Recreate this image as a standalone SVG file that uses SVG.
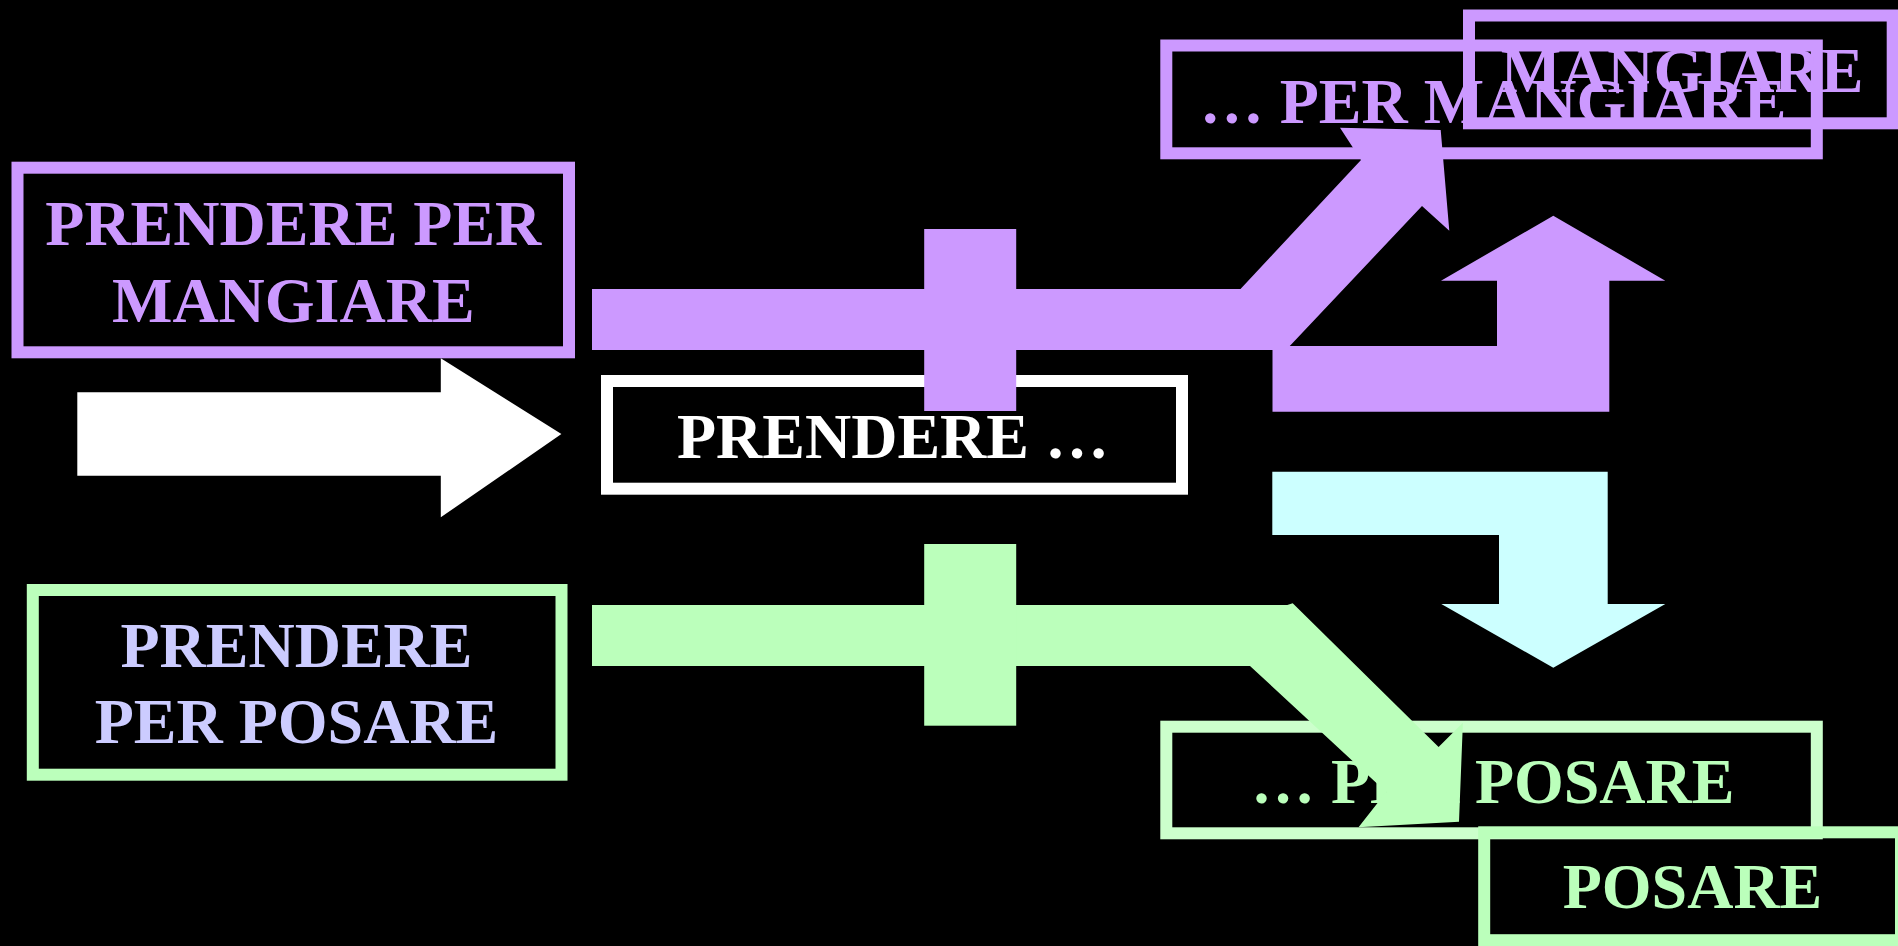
<svg xmlns="http://www.w3.org/2000/svg" width="1898" height="946" viewBox="0 0 1898 946">
  <style>
    .box { fill: none; stroke-width: 12; }
    .lbl { font-family: "Liberation Serif", "Times New Roman", serif; font-weight: bold; font-size: 64px; text-anchor: middle; }
    .purple { fill: #CC99FF; }
    .green { fill: #BBFFBB; }
    .cyan { fill: #CCFFFF; }
  </style>
  <rect width="1898" height="946" fill="#000000"/>

  <!-- nodes -->
  <g id="node-prendere-per-mangiare">
    <rect class="box" x="17.5" y="167.7" width="551.5" height="184.6" stroke="#CC99FF"/>
    <text class="lbl" x="293.3" y="245" fill="#CC99FF">PRENDERE PER</text>
    <text class="lbl" x="293.3" y="321.7" fill="#CC99FF">MANGIARE</text>
  </g>
  <g id="node-prendere">
    <rect class="box" x="607" y="381" width="575" height="107.7" stroke="#FFFFFF"/>
    <text class="lbl" x="893" y="457.7" fill="#FFFFFF">PRENDERE …</text>
  </g>
  <g id="node-prendere-per-posare">
    <rect class="box" x="32.8" y="590" width="528.7" height="184.7" stroke="#BBFFBB"/>
    <text class="lbl" x="296.5" y="667.3" fill="#CCCCFF">PRENDERE</text>
    <text class="lbl" x="296.5" y="743.3" fill="#CCCCFF">PER POSARE</text>
  </g>
  <g id="node-per-mangiare">
    <rect class="box" x="1166.3" y="45.5" width="650.5" height="107.8" stroke="#CC99FF"/>
    <text class="lbl" x="1493" y="122.7" fill="#CC99FF">… PER MANGIARE</text>
  </g>
  <g id="node-mangiare">
    <rect class="box" x="1469" y="15.5" width="423.7" height="107.8" stroke="#CC99FF"/>
    <text class="lbl" x="1682" y="91.7" fill="#CC99FF">MANGIARE</text>
  </g>
  <g id="node-per-posare">
    <rect class="box" x="1166.3" y="726.7" width="650.5" height="106.6" stroke="#CCFFCC"/>
    <text class="lbl" x="1492.7" y="803.3" fill="#BBFFBB">… PER POSARE</text>
  </g>
  <g id="node-posare">
    <rect class="box" x="1484.2" y="832.3" width="416.8" height="107.9" stroke="#BBFFBB"/>
    <text class="lbl" x="1692.5" y="908.3" fill="#BBFFBB">POSARE</text>
  </g>

  <!-- connectors -->
  <g id="connectors">
    <polygon fill="#FFFFFF" points="77.3,392.3 440.8,392.3 440.8,358.3 561.4,434 440.8,517.3 440.8,475.7 77.3,475.7"/>

    <polygon class="purple" points="592,289 1240.5,289 1361,160 1340,127.7 1440.7,130 1449.3,230.7 1422,206 1286,350 592,350"/>
    <rect class="purple" x="924.2" y="229" width="92" height="182"/>
    <polygon class="purple" points="1272.5,346 1497,346 1497,280.7 1441,280.7 1553.3,215.7 1665.3,280.7 1609.3,280.7 1609.3,411.7 1272.5,411.7"/>

    <polygon class="cyan" points="1272.3,471.7 1607.7,471.7 1607.7,604 1665.3,604 1553.3,667.7 1441.3,604 1499,604 1499,535 1272.3,535"/>

    <polygon class="green" points="592,605 1287.3,605 1292.7,603.3 1438.6,746.9 1462.9,722.7 1459,821.7 1358.5,827.3 1386.2,792.1 1250,666 592,666"/>
    <rect class="green" x="924.2" y="544" width="92" height="181.7"/>
  </g>
</svg>
